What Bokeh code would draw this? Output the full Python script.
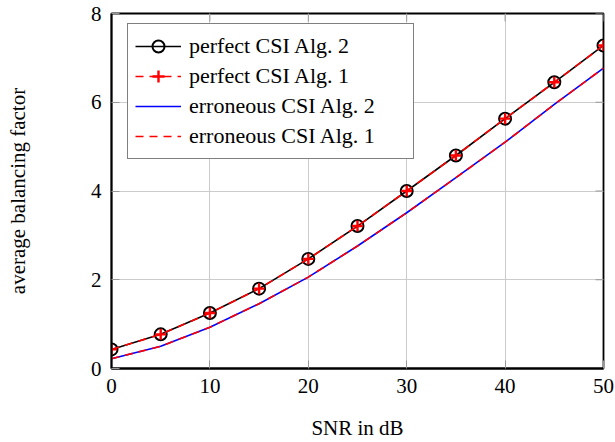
import math
from bokeh.plotting import figure
from bokeh.models import ColumnDataSource, FixedTicker, Legend, LegendItem, Range1d
from bokeh.embed import file_html
from bokeh.resources import INLINE

snr = [0, 5, 10, 15, 20, 25, 30, 35, 40, 45, 50]
perfect_alg2 = [0.43, 0.77, 1.25, 1.80, 2.47, 3.21, 4.00, 4.80, 5.63, 6.45, 7.28]
perfect_alg1 = [0.43, 0.77, 1.25, 1.80, 2.47, 3.21, 4.00, 4.80, 5.63, 6.45, 7.28]
err_alg2 = [0.22, 0.50, 0.93, 1.46, 2.06, 2.76, 3.51, 4.30, 5.10, 5.95, 6.77]
err_alg1 = [0.22, 0.50, 0.93, 1.46, 2.06, 2.76, 3.51, 4.30, 5.10, 5.95, 6.77]
x_ticks = [0, 10, 20, 30, 40, 50]
y_ticks = [0, 2, 4, 6, 8]
labels = ["perfect CSI Alg. 2", "perfect CSI Alg. 1",
          "erroneous CSI Alg. 2", "erroneous CSI Alg. 1"]
x_title = "SNR in dB"
y_title = "average balancing factor"

FONT = "Liberation Serif"
X_MIN, X_MAX = 0, 50
Y_MIN, Y_MAX = 0, 8

p = figure(width=615, height=442, output_backend="svg", toolbar_location=None,
           x_range=Range1d(X_MIN, X_MAX), y_range=Range1d(Y_MIN, Y_MAX),
           min_border_left=111, min_border_right=12, min_border_top=13,
           min_border_bottom=74)
p.background_fill_color = "white"
p.border_fill_color = "white"
p.outline_line_color = "black"
p.outline_line_width = 1.8

p.xgrid.ticker = FixedTicker(ticks=x_ticks)
p.ygrid.ticker = FixedTicker(ticks=y_ticks)
p.grid.grid_line_color = "#cccccc"
p.grid.grid_line_width = 1

# inward ticks on the top and right edges
TICK_COLOR = "#999999"
p.ray(x=x_ticks, y=[Y_MAX] * len(x_ticks), length=8, length_units="screen",
      angle=-math.pi / 2, line_color=TICK_COLOR, line_width=1)
p.ray(x=[X_MAX] * len(y_ticks), y=y_ticks, length=8, length_units="screen",
      angle=math.pi, line_color=TICK_COLOR, line_width=1)

src = ColumnDataSource(dict(x=snr, pa2=perfect_alg2, pa1=perfect_alg1,
                            ea2=err_alg2, ea1=err_alg1))

r1l = p.line("x", "pa2", source=src, line_color="black", line_width=1.6)
r1m = p.scatter("x", "pa2", source=src, marker="circle", size=12,
                line_color="black", line_width=2, fill_color=None)
r2l = p.line("x", "pa1", source=src, line_color="red", line_width=1.6,
             line_dash="8 6")
r2m = p.scatter("x", "pa1", source=src, marker="cross", size=11,
                line_color="red", line_width=2.4)
r3l = p.line("x", "ea2", source=src, line_color="blue", line_width=1.6)
r4l = p.line("x", "ea1", source=src, line_color="red", line_width=1.6,
             line_dash="8 6")

for ax in (p.xaxis[0], p.yaxis[0]):
    ax.axis_line_color = "black"
    ax.axis_line_width = 1.8
    ax.major_tick_in = 8
    ax.major_tick_out = 0
    ax.major_tick_line_color = TICK_COLOR
    ax.minor_tick_line_color = None
    ax.major_label_text_font = FONT
    ax.major_label_text_font_size = "21px"
    ax.major_label_text_color = "black"
    ax.axis_label_text_font = FONT
    ax.axis_label_text_font_size = "21px"
    ax.axis_label_text_font_style = "normal"
    ax.axis_label_text_color = "black"

p.xaxis[0].ticker = FixedTicker(ticks=x_ticks)
p.yaxis[0].ticker = FixedTicker(ticks=y_ticks)
p.xaxis[0].axis_label = x_title
p.yaxis[0].axis_label = y_title
p.xaxis[0].major_label_standoff = 10
p.xaxis[0].axis_label_standoff = 20
p.yaxis[0].major_label_standoff = 10
p.yaxis[0].axis_label_standoff = 58

legend = Legend(items=[
    LegendItem(label=labels[0], renderers=[r1l, r1m]),
    LegendItem(label=labels[1], renderers=[r2l, r2m]),
    LegendItem(label=labels[2], renderers=[r3l]),
    LegendItem(label=labels[3], renderers=[r4l]),
], location=(16, 209))
legend.label_text_font = FONT
legend.label_text_font_size = "22px"
legend.label_text_color = "black"
legend.glyph_width = 46
legend.glyph_height = 30
legend.label_height = 30
legend.label_width = 217
legend.label_standoff = 8
legend.spacing = 0
legend.padding = 7
legend.border_line_color = "black"
legend.border_line_width = 1.8
legend.background_fill_alpha = 1
p.add_layout(legend, "center")

open("out.html", "w").write(file_html(p, INLINE))
